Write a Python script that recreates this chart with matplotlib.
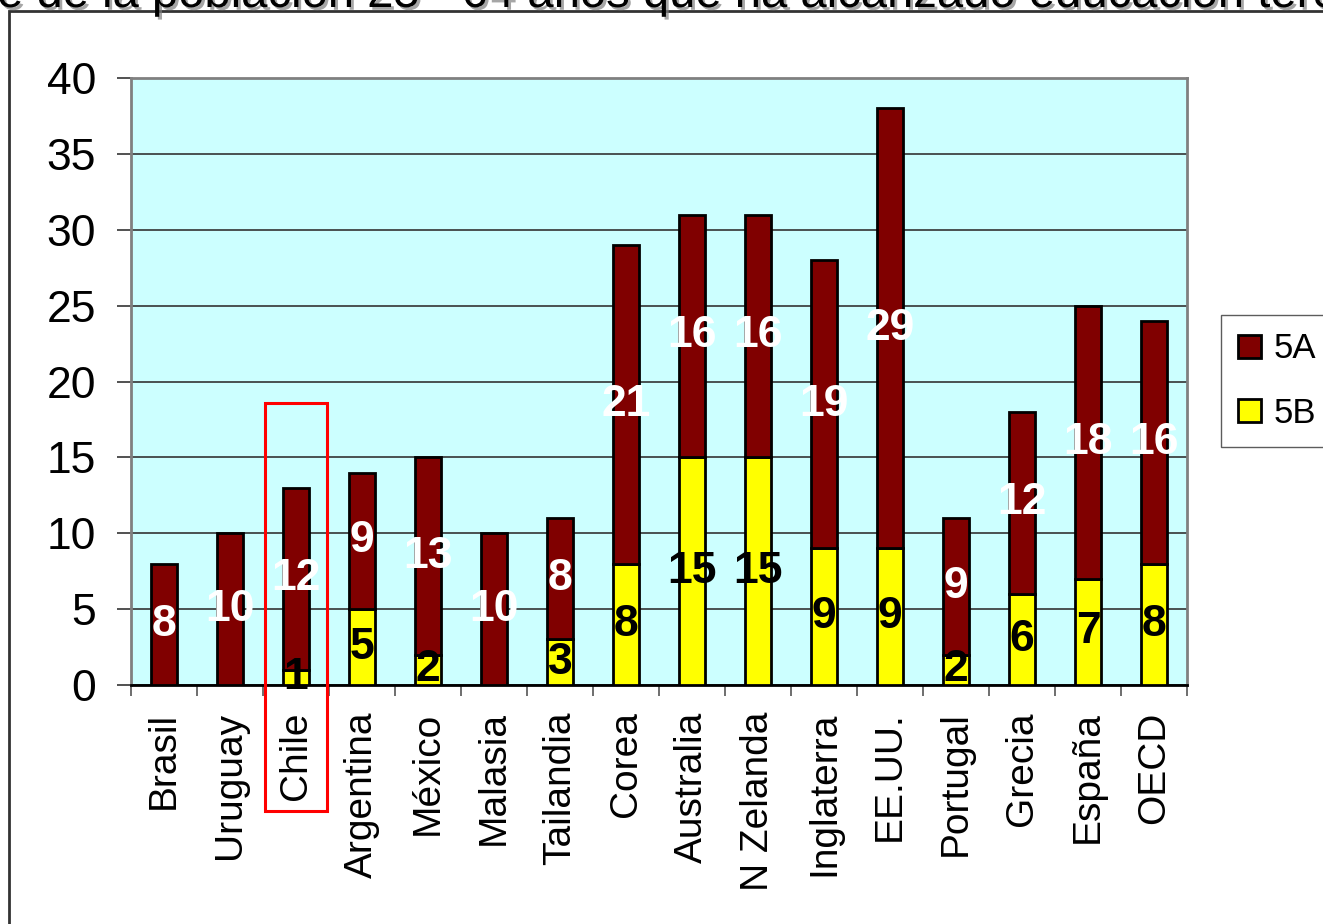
import numpy as np
import matplotlib
matplotlib.use("Agg")
import matplotlib.pyplot as plt
import matplotlib.patheffects as pe
from matplotlib.patches import Rectangle, Patch

plt.rcParams["font.family"] = ["Liberation Sans", "DejaVu Sans"]

paises = ["Brasil", "Uruguay", "Chile", "Argentina", "México", "Malasia",
          "Tailandia", "Corea", "Australia", "N Zelanda", "Inglaterra",
          "EE.UU.", "Portugal", "Grecia", "España", "OECD"]
v5b = [0, 0, 1, 5, 2, 0, 3, 8, 15, 15, 9, 9, 2, 6, 7, 8]
v5a = [8, 10, 12, 9, 13, 10, 8, 21, 16, 16, 19, 29, 9, 12, 18, 16]
titulo = "Porcentaje de la población 25 - 64 años que ha alcanzado educación terciaria"

col_5a = "#800000"
col_5b = "#FFFF00"

fig = plt.figure(figsize=(13.23, 9.24), dpi=100)
ax = fig.add_axes([131/1323, 1 - 685/924, (1187-131)/1323, (685-78)/924])
ax.set_facecolor("#CCFFFF")

x = np.arange(len(paises))
b = np.array(v5b)
a = np.array(v5a)
w = 0.39

ax.bar(x[b > 0], b[b > 0], width=w, color=col_5b, edgecolor="black", linewidth=2, zorder=3)
ax.bar(x, a, width=w, bottom=b, color=col_5a, edgecolor="black", linewidth=2, zorder=3)

# etiquetas de valores
for i in range(len(paises)):
    ax.text(x[i], b[i] + a[i] / 2, str(a[i]), color="white", fontsize=32, fontweight="bold",
            ha="center", va="center", zorder=5)
    if b[i] > 0:
        ax.text(x[i], b[i] / 2, str(b[i]), color="black", fontsize=32, fontweight="bold",
                ha="center", va="center", zorder=5)

ax.set_xlim(-0.5, len(paises) - 0.5)
ax.set_ylim(0, 40)
ax.set_yticks(np.arange(0, 41, 5))
ax.yaxis.grid(True, color="#333333", linewidth=1.2, zorder=1)
ax.set_axisbelow(True)
ax.tick_params(axis="y", labelsize=32, length=10, width=1.2, pad=15, color="#333333")

ax.set_xticks(x)
ax.set_xticklabels(paises, rotation=90, fontsize=28)
ax.set_xticks(np.arange(-0.5, len(paises), 1), minor=True)
ax.tick_params(axis="x", which="major", length=0, pad=19)
ax.tick_params(axis="x", which="minor", length=8, width=1.2, color="#555555")

for s in ax.spines.values():
    s.set_color("#808080")
    s.set_linewidth(2)
ax.spines["bottom"].set_color("black")

# recuadro rojo alrededor de Chile
ax.add_patch(Rectangle((2 - 0.47, -8.3), 0.94, 26.9, fill=False, edgecolor="red",
                       linewidth=2.2, clip_on=False, zorder=6))

handles = [Patch(facecolor=col_5a, edgecolor="black", linewidth=2, label="5A"),
           Patch(facecolor=col_5b, edgecolor="black", linewidth=2, label="5B")]
leg = ax.legend(handles=handles, loc="upper left", bbox_to_anchor=(1221/1323, 1 - 315/924),
                bbox_transform=fig.transFigure, fontsize=25, frameon=True, fancybox=False,
                handlelength=0.65, handleheight=0.65, handletextpad=0.35, labelspacing=0.9,
                borderpad=0.5, borderaxespad=0)
leg.get_frame().set_edgecolor("#333333")
leg.get_frame().set_linewidth(1)

# marco exterior
fig.patches.append(Rectangle((9/1323, -0.1), 1.2, 1.1 - 11/924, transform=fig.transFigure,
                             fill=False, edgecolor="#333333", linewidth=2))

# título cortado en el borde superior
t = fig.text(0, 1 - 7/924, titulo, fontsize=34, ha="left", va="baseline",
             path_effects=[pe.withSimplePatchShadow(offset=(2, -2), shadow_rgbFace="gray", alpha=0.7)])
r = fig.canvas.get_renderer()
pre = fig.text(0, 0, "Porcentaj", fontsize=34)
w_pre = pre.get_window_extent(r).width
pre.remove()
t.set_x(-(w_pre + 3) / 1323)

fig.savefig("out.png", dpi=100)
